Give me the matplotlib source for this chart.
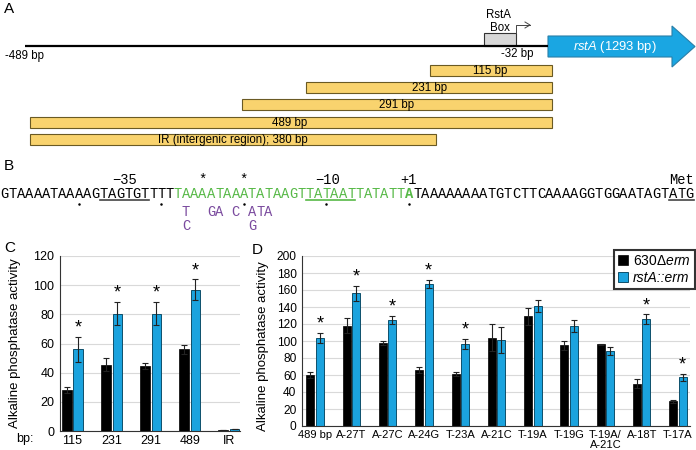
import matplotlib
matplotlib.use("Agg")
import matplotlib.pyplot as plt
from matplotlib.patches import Rectangle, Polygon, Patch
import numpy as np

plt.rcParams['font.family'] = ['Liberation Sans', 'DejaVu Sans']
plt.rcParams['mathtext.fontset'] = 'custom'
plt.rcParams['mathtext.rm'] = 'Liberation Sans'
plt.rcParams['mathtext.it'] = 'Liberation Sans:italic'

# ---------------- data ----------------
# Panel C
c_cats = ['115', '231', '291', '489', 'IR']
c_wt = [28, 45.5, 44.5, 56, 1]
c_wt_err = [2, 4.5, 2, 3, 0]
c_mut = [56, 80.5, 80.5, 97, 1.5]
c_mut_err = [8.5, 8, 8, 7, 0]
c_star = [True, True, True, True, False]

# Panel D
d_cats = ['489 bp', 'A-27T', 'A-27C', 'A-24G', 'T-23A', 'A-21C', 'T-19A',
          'T-19G', 'T-19A/\nA-21C', 'A-18T', 'T-17A']
d_wt = [60, 118, 98, 66, 61, 104, 129, 95, 96, 50, 29]
d_wt_err = [3, 9, 2.5, 3.5, 2.5, 16, 10, 5, 1, 5, 2]
d_mut = [104, 156, 125, 167, 96.5, 101, 141, 118, 88, 125.5, 57.5]
d_mut_err = [6, 9, 5, 5, 6, 15, 7, 7, 5, 6, 4]
d_star = [True, True, True, True, True, False, False, False, False, True, True]

# Panel A fragments
frag_labels = ['115 bp', '231 bp', '291 bp', '489 bp', 'IR (intergenic region); 380 bp']

# Panel B sequence segments (text, color, underline, bold)
seq_segments = [
    ('GTAAAATAAAAG', 'black', False, False),
    ('TAGTGT', 'black', True, False),
    ('TTT', 'black', False, False),
    ('TAAAATAAATATAAGT', 'green', False, False),
    ('TATAAT', 'green', True, False),
    ('TATATT', 'green', False, False),
    ('A', 'green', False, True),
    ('TAAAAAAAATGTCTTCAAAAGGTGGAATAGT', 'black', False, False),
    ('ATG', 'black', True, False),
]
mut_row1 = {22: 'T', 25: 'G', 26: 'A', 28: 'C', 30: 'A', 31: 'T', 32: 'A'}
mut_row2 = {22: 'C', 30: 'G'}

BLACK = '#000000'
BLUE = '#1BA3DE'
BLUE_EDGE = '#0E4F6B'
YELLOW = '#F9D36E'
YEDGE = '#6A5A24'
GREEN = '#57B947'
PURPLE = '#7A4A9E'

fig = plt.figure(figsize=(6.96, 4.5), dpi=100)

# overlay axes in pixel coordinates
ov = fig.add_axes([0, 0, 1, 1])
ov.set_xlim(0, 696)
ov.set_ylim(450, 0)
ov.axis('off')
ov.set_zorder(0)

# ---- Panel A ----
ov.text(4, 9, 'A', fontsize=11, va='center', ha='left')
ov.plot([25, 548], [46, 46], color='black', lw=1.6, solid_capstyle='butt')
ov.text(5, 56, '-489 bp', fontsize=8.3, va='center', ha='left')
ov.add_patch(Rectangle((484, 33), 32, 13, facecolor='#D8D8D8', edgecolor='#333333', lw=0.8))
ov.text(498, 15, 'RstA', fontsize=8.3, ha='center', va='center')
ov.text(500, 28, 'Box', fontsize=8.3, ha='center', va='center')
ov.plot([516, 516, 530], [33, 25, 25], color='#444444', lw=0.7)
ov.plot([525, 530, 525], [22, 25, 28], color='#444444', lw=0.7)
ov.text(517, 54, '-32 bp', fontsize=8.3, ha='center', va='center')
ov.add_patch(Polygon([(548, 36), (672, 36), (672, 26), (695, 46.5), (672, 67),
                      (672, 57), (548, 57)], closed=True, facecolor='#1AA6E2',
                     edgecolor='#2A7FA8', lw=0.8))
ov.text(615, 47, r'$\mathit{rstA}$ (1293 bp)', fontsize=9.4, color='white',
        ha='center', va='center')

frag_rects = [(430, 65, 122), (306, 82, 246), (242, 99, 310), (30, 117, 522), (30, 134, 406)]
frag_text_x = [490, 430, 397, 290, 233]
for lab, (x, y, w), tx in zip(frag_labels, frag_rects, frag_text_x):
    ov.add_patch(Rectangle((x, y), w, 11, facecolor=YELLOW, edgecolor=YEDGE, lw=0.8))
    ov.text(tx, y + 5.8, lab, fontsize=8.3, ha='center', va='center')

# ---- Panel B ----
ov.text(4, 166, 'B', fontsize=11, va='center', ha='left')
cw = 8.25
x0 = 0.5
ys = 194
mono = ['Liberation Mono', 'DejaVu Sans Mono']
idx = 0
seg_pos = []
for text, col, ul, bold in seq_segments:
    c = GREEN if col == 'green' else 'black'
    start = idx
    for ch in text:
        ov.text(x0 + idx * cw, ys, ch, family=mono, fontsize=9.9, color=c,
                fontweight='bold' if bold else 'normal', ha='left', va='center')
        idx += 1
    seg_pos.append((start, idx))
    if ul:
        ov.plot([x0 + start * cw, x0 + idx * cw], [200, 200],
                color=GREEN if col == 'green' else '#444444', lw=1.2)


def cx(i):
    return x0 + (i + 0.5) * cw


ov.text((cx(seg_pos[1][0]) + cx(seg_pos[1][1] - 1)) / 2, 180, '\u221235', family=mono,
        fontsize=9.9, ha='center', va='center')
ov.text((cx(seg_pos[4][0]) + cx(seg_pos[4][1] - 1)) / 2 - 3, 180, '\u221210', family=mono,
        fontsize=9.9, ha='center', va='center')
ov.text(cx(49), 180, '+1', family=mono, fontsize=9.9, ha='center', va='center')
ov.text(x0 + idx * cw, 180, 'Met', family=mono, fontsize=9.9, ha='right', va='center')
for si in (24, 29):
    ov.text(cx(si), 180, '*', family=mono, fontsize=9.9, ha='center', va='center')
for di in (9, 19, 29, 39, 49):
    ov.plot(cx(di), 204, 'o', color='black', ms=1.8, mew=0)
for k, v in mut_row1.items():
    ov.text(x0 + k * cw, 212, v, family=mono, fontsize=9.9, color=PURPLE, ha='left', va='center')
for k, v in mut_row2.items():
    ov.text(x0 + k * cw, 226, v, family=mono, fontsize=9.9, color=PURPLE, ha='left', va='center')

ov.text(4, 248, 'C', fontsize=11, va='center', ha='left')
ov.text(252, 250, 'D', fontsize=11, va='center', ha='left')


def style_ax(ax, ymax, ystep, tick_fs, xtick_fs):
    ax.set_ylim(0, ymax)
    ax.set_yticks(np.arange(0, ymax + 1, ystep))
    ax.yaxis.grid(True, color='#D9D9D9', lw=0.8)
    ax.set_axisbelow(True)
    for s in ('top', 'right'):
        ax.spines[s].set_visible(False)
    ax.spines['left'].set_color('#333333')
    ax.spines['bottom'].set_color('#333333')
    ax.spines['left'].set_linewidth(0.8)
    ax.spines['bottom'].set_linewidth(0.8)
    ax.tick_params(axis='both', length=0)
    ax.tick_params(axis='y', labelsize=tick_fs, pad=4)
    ax.tick_params(axis='x', labelsize=xtick_fs, pad=3)
    ax.set_ylabel('Alkaline phosphatase activity', fontsize=9.5, labelpad=2)


def bars(ax, wt, wte, mut, mute, star, width, off, star_off):
    x = np.arange(len(wt))
    ekw = dict(ecolor='#222222', elinewidth=0.8, capsize=2, capthick=0.8)
    ax.bar(x - off, wt, width, color=BLACK, edgecolor='black', lw=0.5,
           yerr=wte, error_kw=ekw, zorder=2)
    ax.bar(x + off, mut, width, color=BLUE, edgecolor=BLUE_EDGE, lw=0.7,
           yerr=mute, error_kw=ekw, zorder=2)
    for i in range(len(wt)):
        if star[i]:
            ax.annotate('*', (x[i] + off, mut[i] + mute[i]), xytext=(0, star_off),
                        textcoords='offset points', ha='center', va='bottom', fontsize=13)


# ---- Panel C ----
axc = fig.add_axes([60 / 696, 1 - 431 / 450, 180 / 696, 175 / 450])
axc.set_zorder(1)
style_ax(axc, 120, 20, 9, 9)
bars(axc, c_wt, c_wt_err, c_mut, c_mut_err, c_star, 0.25, 0.15, 0)
axc.set_xticks(np.arange(len(c_cats)))
axc.set_xticklabels(c_cats)
axc.set_xlim(-0.32, 4.29)
axc.yaxis.set_label_coords(-0.215, 0.5)
fig.text(25 / 696, 1 - 439 / 450, 'bp:', fontsize=9, ha='center', va='center')

# ---- Panel D ----
axd = fig.add_axes([302 / 696, 1 - 426 / 450, 388 / 696, 170 / 450])
axd.set_zorder(1)
style_ax(axd, 200, 20, 8.6, 8)
bars(axd, d_wt, d_wt_err, d_mut, d_mut_err, d_star, 0.22, 0.13, 0)
axd.set_xticks(np.arange(len(d_cats)))
axd.set_xticklabels(d_cats, linespacing=1.0)
axd.set_xlim(-0.36, 10.33)
axd.yaxis.set_label_coords(-0.085, 0.47)

handles = [Patch(facecolor=BLACK, edgecolor='black', lw=0.5),
           Patch(facecolor=BLUE, edgecolor=BLUE_EDGE, lw=0.7)]
leg = fig.legend(handles, [r'630$\Delta\mathit{erm}$', 'rstA::erm'],
                 loc='upper right', bbox_to_anchor=(695 / 696, 1 - 250 / 450),
                 fontsize=10, frameon=True, fancybox=False, handlelength=0.7,
                 handleheight=0.7, handletextpad=0.4, borderpad=0.3, labelspacing=0.2,
                 borderaxespad=0)
leg.get_texts()[1].set_fontstyle('italic')
leg.get_frame().set_edgecolor('black')
leg.get_frame().set_linewidth(1.5)

fig.savefig('out.png', dpi=100)
